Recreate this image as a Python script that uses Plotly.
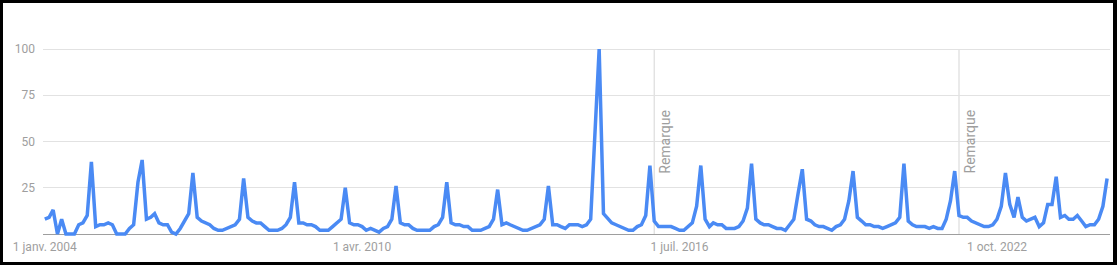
import pandas as pd
import plotly.graph_objects as go

# Monthly search interest (0-100), one list per year, Jan..Dec
y2004 = [8, 9, 13, 0, 8, 0, 0, 0, 5, 6, 10, 39]
y2005 = [4, 5, 5, 6, 5, 0, 0, 0, 3, 5, 28, 40]
y2006 = [8, 9, 11, 6, 5, 5, 1, 0, 3, 7, 11, 33]
y2007 = [9, 7, 6, 5, 3, 2, 2, 3, 4, 5, 8, 30]
y2008 = [9, 7, 6, 6, 4, 2, 2, 2, 3, 5, 9, 28]
y2009 = [6, 6, 5, 5, 4, 2, 2, 2, 4, 6, 8, 25]
y2010 = [6, 5, 5, 4, 2, 3, 2, 1, 3, 4, 8, 26]
y2011 = [6, 5, 5, 3, 2, 2, 2, 2, 4, 5, 9, 28]
y2012 = [6, 5, 5, 4, 4, 2, 2, 2, 3, 4, 8, 24]
y2013 = [5, 6, 5, 4, 3, 2, 2, 3, 4, 5, 8, 26]
y2014 = [5, 5, 4, 3, 5, 5, 5, 4, 5, 8, 52, 100]
y2015 = [11, 8, 6, 5, 4, 3, 2, 2, 4, 5, 10, 37]
y2016 = [7, 4, 4, 4, 4, 3, 2, 2, 4, 6, 15, 37]
y2017 = [8, 4, 6, 5, 5, 3, 3, 3, 4, 7, 14, 38]
y2018 = [8, 6, 5, 5, 4, 3, 3, 2, 5, 8, 22, 35]
y2019 = [8, 7, 5, 4, 4, 3, 2, 4, 5, 8, 18, 34]
y2020 = [9, 7, 5, 5, 4, 4, 3, 4, 5, 6, 9, 38]
y2021 = [7, 5, 4, 4, 4, 3, 4, 3, 3, 8, 18, 34]
y2022 = [10, 9, 9, 7, 6, 5, 4, 4, 5, 8, 15, 33]
y2023 = [16, 9, 20, 9, 7, 8, 9, 4, 6, 16, 16, 31]
y2024 = [9, 10, 8, 8, 10, 7, 4, 5, 5, 8, 15, 30]

yearly = [y2004, y2005, y2006, y2007, y2008, y2009, y2010, y2011, y2012, y2013,
          y2014, y2015, y2016, y2017, y2018, y2019, y2020, y2021, y2022, y2023,
          y2024]
interest = [v for year in yearly for v in year]
months = pd.date_range("2004-01-01", periods=len(interest), freq="MS")

# Axis labels
tick_dates = ["2004-01-01", "2010-04-01", "2016-07-01", "2022-10-01"]
tick_text = ["1 janv. 2004", "1 avr. 2010", "1 juil. 2016", "1 oct. 2022"]
y_ticks = [25, 50, 75, 100]

# Dates of data-collection notes
note_dates = ["2016-01-01", "2022-01-01"]
note_label = "Remarque"

LABEL_GREY = "#9e9e9e"
FONT = "Roboto"

fig = go.Figure()
fig.add_trace(go.Scatter(
    x=months, y=interest, mode="lines",
    line=dict(color="#4a8af4", width=3.5, shape="linear"),
    hoverinfo="skip", showlegend=False,
))

W, H = 1117, 265
L, R, T, B = 43, 7, 45, 27
pw, ph = W - L - R, H - T - B

def px_x(p):
    return (p - L) / pw

def px_y(p):
    return (H - B - p) / ph

shapes = [
    # white card inside the dark frame
    dict(type="rect", xref="paper", yref="paper", layer="below",
         x0=px_x(3), x1=px_x(1113), y0=px_y(262), y1=px_y(3),
         fillcolor="white", line=dict(width=0)),
]
annotations = []
for d in note_dates:
    shapes.append(dict(type="line", xref="x", yref="y", x0=d, x1=d, y0=0, y1=100,
                       line=dict(color="#dcdcdc", width=1.2), layer="below"))
    annotations.append(dict(x=d, y=50, xref="x", yref="y", text=note_label,
                            textangle=-90, showarrow=False, xshift=10,
                            font=dict(family=FONT, size=14, color=LABEL_GREY)))

fig.update_layout(
    width=W, height=H,
    margin=dict(l=L, r=R, t=T, b=B, pad=0),
    paper_bgcolor="black", plot_bgcolor="white",
    font=dict(family=FONT, size=12, color=LABEL_GREY),
    shapes=shapes, annotations=annotations,
    xaxis=dict(
        type="date", range=["2003-12-19", "2024-12-22"],
        tickvals=tick_dates, ticktext=tick_text,
        showgrid=False, zeroline=False, showline=False, ticks="",
        tickfont=dict(family=FONT, size=12, color=LABEL_GREY),
    ),
    yaxis=dict(
        range=[-4 / 1.85, 100 + 4 / 1.85],
        tickvals=y_ticks, ticks="",
        showgrid=True, gridcolor="#e2e2e2", gridwidth=1,
        zeroline=True, zerolinecolor="#9e9e9e", zerolinewidth=1,
        showline=False, ticklabelstandoff=7,
        tickfont=dict(family=FONT, size=12, color=LABEL_GREY),
    ),
)

fig.write_html("out.html")
